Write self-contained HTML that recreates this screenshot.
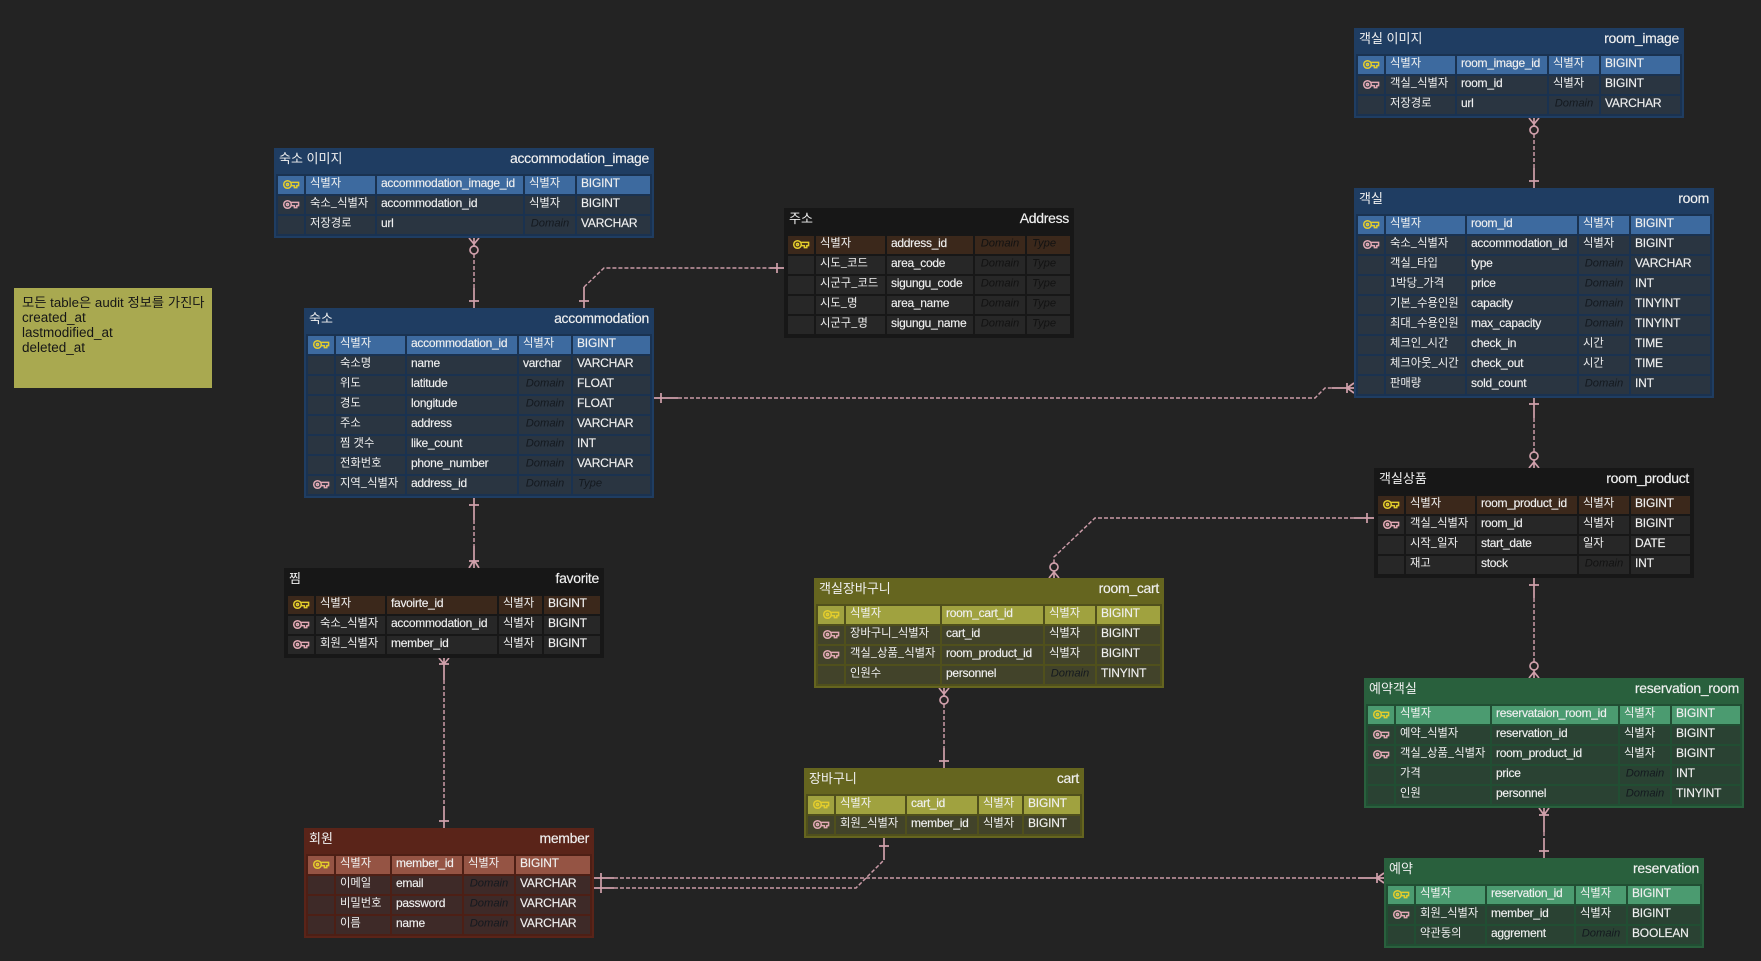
<!DOCTYPE html>
<html lang="ko"><head><meta charset="utf-8"><title>ERD</title>
<style>
html,body{margin:0;padding:0;background:#232323;width:1761px;height:961px;overflow:hidden}
svg{display:block;position:absolute;left:0;top:0}
text{font-family:"Liberation Sans","Noto Sans CJK KR",sans-serif;fill:#f0f0f0}
.k{font-family:"Noto Sans CJK KR","Liberation Sans",sans-serif;font-size:11.3px;transform:translateY(-1.3px)}
.l{font-size:12px;letter-spacing:-.28px;transform:translateY(-1px);stroke:#f0f0f0;stroke-width:.15px}
.t{font-size:12px;letter-spacing:-.2px;transform:translateY(-1px);stroke:#f0f0f0;stroke-width:.15px}
.d{font-size:11.2px;font-style:italic;text-anchor:middle;fill:#14191f;transform:translateY(-1.5px)}
.y{font-size:11.2px;font-style:italic;fill:#14191f;transform:translateY(-1.5px)}
.dk .d,.dk .y{fill:#121212}
.h{font-family:"Noto Sans CJK KR","Liberation Sans",sans-serif;font-size:13px}
.e{font-size:14px;letter-spacing:-.3px;text-anchor:end;stroke:#f0f0f0;stroke-width:.15px}
.n{font-size:13.5px;fill:#161616}
.nk{font-family:"Liberation Sans","Noto Sans CJK KR",sans-serif;font-size:13.3px;fill:#161616}
.c{fill:none;stroke:#d0a0ab;stroke-width:1.7}
.c .da{stroke-dasharray:4 2;stroke-width:1.5;stroke:#c99aa6}
</style></head><body>
<svg width="1761" height="961" viewBox="0 0 1761 961" xmlns="http://www.w3.org/2000/svg">
<defs>
<g id="ky" fill="none" stroke-width="1.5"><circle cx="4.5" cy="4.5" r="3.8"/><circle cx="4.5" cy="4.5" r="1.1"/><path d="M8.2 2.4H15.6V5.6H13.8V7.6H11.4V5.6H8.2"/></g>
<g id="r1"><rect x="278" width="26" height="18"/><rect x="306" width="69" height="18"/><rect x="377" width="146" height="18"/><rect x="525" width="50" height="18"/><rect x="577" width="73" height="18"/></g>
<g id="r2"><rect x="308" width="26" height="18"/><rect x="336" width="69" height="18"/><rect x="407" width="110" height="18"/><rect x="519" width="52" height="18"/><rect x="573" width="77" height="18"/></g>
<g id="r3"><rect x="288" width="26" height="18"/><rect x="316" width="69" height="18"/><rect x="387" width="110" height="18"/><rect x="499" width="43" height="18"/><rect x="544" width="56" height="18"/></g>
<g id="r4"><rect x="1358" width="26" height="18"/><rect x="1386" width="69" height="18"/><rect x="1457" width="90" height="18"/><rect x="1549" width="50" height="18"/><rect x="1601" width="79" height="18"/></g>
<g id="r5"><rect x="1358" width="26" height="18"/><rect x="1386" width="79" height="18"/><rect x="1467" width="110" height="18"/><rect x="1579" width="50" height="18"/><rect x="1631" width="79" height="18"/></g>
<g id="r6"><rect x="1378" width="26" height="18"/><rect x="1406" width="69" height="18"/><rect x="1477" width="100" height="18"/><rect x="1579" width="50" height="18"/><rect x="1631" width="59" height="18"/></g>
<g id="r7"><rect x="1368" width="26" height="18"/><rect x="1396" width="94" height="18"/><rect x="1492" width="126" height="18"/><rect x="1620" width="50" height="18"/><rect x="1672" width="68" height="18"/></g>
<g id="r8"><rect x="1388" width="26" height="18"/><rect x="1416" width="69" height="18"/><rect x="1487" width="87" height="18"/><rect x="1576" width="50" height="18"/><rect x="1628" width="72" height="18"/></g>
<g id="r9"><rect x="818" width="26" height="18"/><rect x="846" width="94" height="18"/><rect x="942" width="101" height="18"/><rect x="1045" width="50" height="18"/><rect x="1097" width="63" height="18"/></g>
<g id="r10"><rect x="808" width="26" height="18"/><rect x="836" width="69" height="18"/><rect x="907" width="70" height="18"/><rect x="979" width="43" height="18"/><rect x="1024" width="56" height="18"/></g>
<g id="r11"><rect x="788" width="26" height="18"/><rect x="816" width="69" height="18"/><rect x="887" width="86" height="18"/><rect x="975" width="50" height="18"/><rect x="1027" width="43" height="18"/></g>
<g id="r12"><rect x="308" width="26" height="18"/><rect x="336" width="54" height="18"/><rect x="392" width="70" height="18"/><rect x="464" width="50" height="18"/><rect x="516" width="74" height="18"/></g>
</defs>
<rect width="1761" height="961" fill="#232323"/>

<!-- connectors -->
<g class="c">
<path class="da" d="M474 254V288"/><path d="M474 288V308M469 301H479M474 238V246M469 238L474 244L479 238"/><circle cx="474" cy="250" r="4"/>
<path class="da" d="M584 287L604 268H770"/><path d="M584 308V287M579 301H589M770 268H784M777 263V273"/>
<path class="da" d="M678 398H1315L1325 388H1332"/><path d="M654 398H678M661 393V403M1332 388H1354M1347 383V393M1347 388L1354 383M1347 388L1354 393"/>
<path class="da" d="M474 520V546"/><path d="M474 498V520M469 505H479M474 546V568M469 561H479M474 560L469 568M474 560L479 568"/>
<path class="da" d="M444 680V806"/><path d="M444 658V680M439 664H449M444 664L439 658M444 664L449 658M444 806V828M439 821H449"/>
<path class="da" d="M1534 134V168"/><path d="M1534 118V126M1529 118L1534 124L1539 118M1534 168V188M1529 181H1539"/><circle cx="1534" cy="130" r="4"/>
<path class="da" d="M1534 418V452"/><path d="M1534 398V418M1529 404H1539M1534 460V468M1529 468L1534 462L1539 468"/><circle cx="1534" cy="456" r="4"/>
<path class="da" d="M1534 598V662"/><path d="M1534 578V598M1529 585H1539M1534 670V678M1529 678L1534 672L1539 678"/><circle cx="1534" cy="666" r="4"/>
<path class="da" d="M1354 518H1095L1054 557V563"/><path d="M1354 518H1374M1367 513V523M1054 571V578M1049 578L1054 572L1059 578"/><circle cx="1054" cy="567" r="4"/>
<path class="da" d="M944 704V748"/><path d="M944 688V696M939 688L944 694L949 688M944 748V768M939 761H949"/><circle cx="944" cy="700" r="4"/>
<path class="da" d="M1544 832V838"/><path d="M1544 808V832M1539 815H1549M1544 815L1539 808M1544 815L1549 808M1544 838V858M1539 851H1549"/>
<path class="da" d="M614 878H1358"/><path d="M594 878H614M1358 878H1384M1377 873V883M1377 878L1384 873M1377 878L1384 883"/>
<path class="da" d="M614 888H856L884 860"/><path d="M594 888H614M601 873V893M884 860V838M879 846H889"/>
</g>

<!-- note -->
<rect x="14" y="288" width="198" height="100" fill="#a9a950"/>
<text class="nk" x="22" y="307">모든 table은 audit 정보를 가진다</text>
<text class="n" x="22" y="322">created_at</text>
<text class="n" x="22" y="337">lastmodified_at</text>
<text class="n" x="22" y="352">deleted_at</text>

<!-- accommodation_image -->
<g>
<rect x="274" y="148" width="380" height="90" fill="#1f3d62"/><rect x="276" y="174" width="376" height="62" fill="#1a3250"/>
<use href="#r1" y="176" fill="#3d6a9f"/><use href="#r1" y="196" fill="#2a3541"/><use href="#r1" y="216" fill="#2a3541"/>
<use href="#ky" x="283" y="180" stroke="#e4cd2c"/><use href="#ky" x="283" y="200" stroke="#e2a9b4"/>
<text class="h" x="279" y="163">숙소 이미지</text><text class="e" x="649" y="163">accommodation_image</text>
<text class="k" x="310" y="188">식별자</text><text class="l" x="381" y="188">accommodation_image_id</text><text class="k" x="529" y="188">식별자</text><text class="t" x="581" y="188">BIGINT</text>
<text class="k" x="310" y="208">숙소_식별자</text><text class="l" x="381" y="208">accommodation_id</text><text class="k" x="529" y="208">식별자</text><text class="t" x="581" y="208">BIGINT</text>
<text class="k" x="310" y="228">저장경로</text><text class="l" x="381" y="228">url</text><text class="d" x="550" y="228">Domain</text><text class="t" x="581" y="228">VARCHAR</text>
</g>

<!-- accommodation -->
<g>
<rect x="304" y="308" width="350" height="190" fill="#1f3d62"/><rect x="306" y="334" width="346" height="162" fill="#1a3250"/>
<use href="#r2" y="336" fill="#3d6a9f"/><use href="#r2" y="356" fill="#2a3541"/><use href="#r2" y="376" fill="#2a3541"/><use href="#r2" y="396" fill="#2a3541"/><use href="#r2" y="416" fill="#2a3541"/><use href="#r2" y="436" fill="#2a3541"/><use href="#r2" y="456" fill="#2a3541"/><use href="#r2" y="476" fill="#2a3541"/>
<use href="#ky" x="313" y="340" stroke="#e4cd2c"/><use href="#ky" x="313" y="480" stroke="#e2a9b4"/>
<text class="h" x="309" y="323">숙소</text><text class="e" x="649" y="323">accommodation</text>
<text class="k" x="340" y="348">식별자</text><text class="l" x="411" y="348">accommodation_id</text><text class="k" x="523" y="348">식별자</text><text class="t" x="577" y="348">BIGINT</text>
<text class="k" x="340" y="368">숙소명</text><text class="l" x="411" y="368">name</text><text class="l" x="523" y="368">varchar</text><text class="t" x="577" y="368">VARCHAR</text>
<text class="k" x="340" y="388">위도</text><text class="l" x="411" y="388">latitude</text><text class="d" x="545" y="388">Domain</text><text class="t" x="577" y="388">FLOAT</text>
<text class="k" x="340" y="408">경도</text><text class="l" x="411" y="408">longitude</text><text class="d" x="545" y="408">Domain</text><text class="t" x="577" y="408">FLOAT</text>
<text class="k" x="340" y="428">주소</text><text class="l" x="411" y="428">address</text><text class="d" x="545" y="428">Domain</text><text class="t" x="577" y="428">VARCHAR</text>
<text class="k" x="340" y="448">찜 갯수</text><text class="l" x="411" y="448">like_count</text><text class="d" x="545" y="448">Domain</text><text class="t" x="577" y="448">INT</text>
<text class="k" x="340" y="468">전화번호</text><text class="l" x="411" y="468">phone_number</text><text class="d" x="545" y="468">Domain</text><text class="t" x="577" y="468">VARCHAR</text>
<text class="k" x="340" y="488">지역_식별자</text><text class="l" x="411" y="488">address_id</text><text class="d" x="545" y="488">Domain</text><text class="y" x="578" y="488">Type</text>
</g>

<!-- favorite -->
<g class="dk">
<rect x="284" y="568" width="320" height="90" fill="#171717"/>
<use href="#r3" y="596" fill="#3b281b"/><use href="#r3" y="616" fill="#272727"/><use href="#r3" y="636" fill="#272727"/>
<use href="#ky" x="293" y="600" stroke="#e4cd2c"/><use href="#ky" x="293" y="620" stroke="#e2a9b4"/><use href="#ky" x="293" y="640" stroke="#e2a9b4"/>
<text class="h" x="289" y="583">찜</text><text class="e" x="599" y="583">favorite</text>
<text class="k" x="320" y="608">식별자</text><text class="l" x="391" y="608">favoirte_id</text><text class="k" x="503" y="608">식별자</text><text class="t" x="548" y="608">BIGINT</text>
<text class="k" x="320" y="628">숙소_식별자</text><text class="l" x="391" y="628">accommodation_id</text><text class="k" x="503" y="628">식별자</text><text class="t" x="548" y="628">BIGINT</text>
<text class="k" x="320" y="648">회원_식별자</text><text class="l" x="391" y="648">member_id</text><text class="k" x="503" y="648">식별자</text><text class="t" x="548" y="648">BIGINT</text>
</g>

<!-- room_image -->
<g>
<rect x="1354" y="28" width="330" height="90" fill="#1f3d62"/><rect x="1356" y="54" width="326" height="62" fill="#1a3250"/>
<use href="#r4" y="56" fill="#3d6a9f"/><use href="#r4" y="76" fill="#2a3541"/><use href="#r4" y="96" fill="#2a3541"/>
<use href="#ky" x="1363" y="60" stroke="#e4cd2c"/><use href="#ky" x="1363" y="80" stroke="#e2a9b4"/>
<text class="h" x="1359" y="43">객실 이미지</text><text class="e" x="1679" y="43">room_image</text>
<text class="k" x="1390" y="68">식별자</text><text class="l" x="1461" y="68">room_image_id</text><text class="k" x="1553" y="68">식별자</text><text class="t" x="1605" y="68">BIGINT</text>
<text class="k" x="1390" y="88">객실_식별자</text><text class="l" x="1461" y="88">room_id</text><text class="k" x="1553" y="88">식별자</text><text class="t" x="1605" y="88">BIGINT</text>
<text class="k" x="1390" y="108">저장경로</text><text class="l" x="1461" y="108">url</text><text class="d" x="1574" y="108">Domain</text><text class="t" x="1605" y="108">VARCHAR</text>
</g>

<!-- room -->
<g>
<rect x="1354" y="188" width="360" height="210" fill="#1f3d62"/><rect x="1356" y="214" width="356" height="182" fill="#1a3250"/>
<use href="#r5" y="216" fill="#3d6a9f"/><use href="#r5" y="236" fill="#2a3541"/><use href="#r5" y="256" fill="#2a3541"/><use href="#r5" y="276" fill="#2a3541"/><use href="#r5" y="296" fill="#2a3541"/><use href="#r5" y="316" fill="#2a3541"/><use href="#r5" y="336" fill="#2a3541"/><use href="#r5" y="356" fill="#2a3541"/><use href="#r5" y="376" fill="#2a3541"/>
<use href="#ky" x="1363" y="220" stroke="#e4cd2c"/><use href="#ky" x="1363" y="240" stroke="#e2a9b4"/>
<text class="h" x="1359" y="203">객실</text><text class="e" x="1709" y="203">room</text>
<text class="k" x="1390" y="228">식별자</text><text class="l" x="1471" y="228">room_id</text><text class="k" x="1583" y="228">식별자</text><text class="t" x="1635" y="228">BIGINT</text>
<text class="k" x="1390" y="248">숙소_식별자</text><text class="l" x="1471" y="248">accommodation_id</text><text class="k" x="1583" y="248">식별자</text><text class="t" x="1635" y="248">BIGINT</text>
<text class="k" x="1390" y="268">객실_타입</text><text class="l" x="1471" y="268">type</text><text class="d" x="1604" y="268">Domain</text><text class="t" x="1635" y="268">VARCHAR</text>
<text class="k" x="1390" y="288">1박당_가격</text><text class="l" x="1471" y="288">price</text><text class="d" x="1604" y="288">Domain</text><text class="t" x="1635" y="288">INT</text>
<text class="k" x="1390" y="308">기본_수용인원</text><text class="l" x="1471" y="308">capacity</text><text class="d" x="1604" y="308">Domain</text><text class="t" x="1635" y="308">TINYINT</text>
<text class="k" x="1390" y="328">최대_수용인원</text><text class="l" x="1471" y="328">max_capacity</text><text class="d" x="1604" y="328">Domain</text><text class="t" x="1635" y="328">TINYINT</text>
<text class="k" x="1390" y="348">체크인_시간</text><text class="l" x="1471" y="348">check_in</text><text class="k" x="1583" y="348">시간</text><text class="t" x="1635" y="348">TIME</text>
<text class="k" x="1390" y="368">체크아웃_시간</text><text class="l" x="1471" y="368">check_out</text><text class="k" x="1583" y="368">시간</text><text class="t" x="1635" y="368">TIME</text>
<text class="k" x="1390" y="388">판매량</text><text class="l" x="1471" y="388">sold_count</text><text class="d" x="1604" y="388">Domain</text><text class="t" x="1635" y="388">INT</text>
</g>

<!-- room_product -->
<g class="dk">
<rect x="1374" y="468" width="320" height="110" fill="#171717"/>
<use href="#r6" y="496" fill="#3b281b"/><use href="#r6" y="516" fill="#272727"/><use href="#r6" y="536" fill="#272727"/><use href="#r6" y="556" fill="#272727"/>
<use href="#ky" x="1383" y="500" stroke="#e4cd2c"/><use href="#ky" x="1383" y="520" stroke="#e2a9b4"/>
<text class="h" x="1379" y="483">객실상품</text><text class="e" x="1689" y="483">room_product</text>
<text class="k" x="1410" y="508">식별자</text><text class="l" x="1481" y="508">room_product_id</text><text class="k" x="1583" y="508">식별자</text><text class="t" x="1635" y="508">BIGINT</text>
<text class="k" x="1410" y="528">객실_식별자</text><text class="l" x="1481" y="528">room_id</text><text class="k" x="1583" y="528">식별자</text><text class="t" x="1635" y="528">BIGINT</text>
<text class="k" x="1410" y="548">시작_일자</text><text class="l" x="1481" y="548">start_date</text><text class="k" x="1583" y="548">일자</text><text class="t" x="1635" y="548">DATE</text>
<text class="k" x="1410" y="568">재고</text><text class="l" x="1481" y="568">stock</text><text class="d" x="1604" y="568">Domain</text><text class="t" x="1635" y="568">INT</text>
</g>

<!-- reservation_room -->
<g>
<rect x="1364" y="678" width="380" height="130" fill="#29603d"/><rect x="1366" y="704" width="376" height="102" fill="#214e33"/>
<use href="#r7" y="706" fill="#4b9b70"/><use href="#r7" y="726" fill="#2a4233"/><use href="#r7" y="746" fill="#2a4233"/><use href="#r7" y="766" fill="#2a4233"/><use href="#r7" y="786" fill="#2a4233"/>
<use href="#ky" x="1373" y="710" stroke="#e4cd2c"/><use href="#ky" x="1373" y="730" stroke="#e2a9b4"/><use href="#ky" x="1373" y="750" stroke="#e2a9b4"/>
<text class="h" x="1369" y="693">예약객실</text><text class="e" x="1739" y="693">reservation_room</text>
<text class="k" x="1400" y="718">식별자</text><text class="l" x="1496" y="718">reservataion_room_id</text><text class="k" x="1624" y="718">식별자</text><text class="t" x="1676" y="718">BIGINT</text>
<text class="k" x="1400" y="738">예약_식별자</text><text class="l" x="1496" y="738">reservation_id</text><text class="k" x="1624" y="738">식별자</text><text class="t" x="1676" y="738">BIGINT</text>
<text class="k" x="1400" y="758">객실_상품_식별자</text><text class="l" x="1496" y="758">room_product_id</text><text class="k" x="1624" y="758">식별자</text><text class="t" x="1676" y="758">BIGINT</text>
<text class="k" x="1400" y="778">가격</text><text class="l" x="1496" y="778">price</text><text class="d" x="1645" y="778">Domain</text><text class="t" x="1676" y="778">INT</text>
<text class="k" x="1400" y="798">인원</text><text class="l" x="1496" y="798">personnel</text><text class="d" x="1645" y="798">Domain</text><text class="t" x="1676" y="798">TINYINT</text>
</g>

<!-- reservation -->
<g>
<rect x="1384" y="858" width="320" height="90" fill="#29603d"/><rect x="1386" y="884" width="316" height="62" fill="#214e33"/>
<use href="#r8" y="886" fill="#4b9b70"/><use href="#r8" y="906" fill="#2a4233"/><use href="#r8" y="926" fill="#2a4233"/>
<use href="#ky" x="1393" y="890" stroke="#e4cd2c"/><use href="#ky" x="1393" y="910" stroke="#e2a9b4"/>
<text class="h" x="1389" y="873">예약</text><text class="e" x="1699" y="873">reservation</text>
<text class="k" x="1420" y="898">식별자</text><text class="l" x="1491" y="898">reservation_id</text><text class="k" x="1580" y="898">식별자</text><text class="t" x="1632" y="898">BIGINT</text>
<text class="k" x="1420" y="918">회원_식별자</text><text class="l" x="1491" y="918">member_id</text><text class="k" x="1580" y="918">식별자</text><text class="t" x="1632" y="918">BIGINT</text>
<text class="k" x="1420" y="938">약관동의</text><text class="l" x="1491" y="938">aggrement</text><text class="d" x="1601" y="938">Domain</text><text class="t" x="1632" y="938">BOOLEAN</text>
</g>

<!-- room_cart -->
<g>
<rect x="814" y="578" width="350" height="110" fill="#65651f"/><rect x="816" y="604" width="346" height="82" fill="#50501c"/>
<use href="#r9" y="606" fill="#a0a23f"/><use href="#r9" y="626" fill="#42432a"/><use href="#r9" y="646" fill="#42432a"/><use href="#r9" y="666" fill="#42432a"/>
<use href="#ky" x="823" y="610" stroke="#e4cd2c"/><use href="#ky" x="823" y="630" stroke="#e2a9b4"/><use href="#ky" x="823" y="650" stroke="#e2a9b4"/>
<text class="h" x="819" y="593">객실장바구니</text><text class="e" x="1159" y="593">room_cart</text>
<text class="k" x="850" y="618">식별자</text><text class="l" x="946" y="618">room_cart_id</text><text class="k" x="1049" y="618">식별자</text><text class="t" x="1101" y="618">BIGINT</text>
<text class="k" x="850" y="638">장바구니_식별자</text><text class="l" x="946" y="638">cart_id</text><text class="k" x="1049" y="638">식별자</text><text class="t" x="1101" y="638">BIGINT</text>
<text class="k" x="850" y="658">객실_상품_식별자</text><text class="l" x="946" y="658">room_product_id</text><text class="k" x="1049" y="658">식별자</text><text class="t" x="1101" y="658">BIGINT</text>
<text class="k" x="850" y="678">인원수</text><text class="l" x="946" y="678">personnel</text><text class="d" x="1070" y="678">Domain</text><text class="t" x="1101" y="678">TINYINT</text>
</g>

<!-- cart -->
<g>
<rect x="804" y="768" width="280" height="70" fill="#65651f"/><rect x="806" y="794" width="276" height="42" fill="#50501c"/>
<use href="#r10" y="796" fill="#a0a23f"/><use href="#r10" y="816" fill="#42432a"/>
<use href="#ky" x="813" y="800" stroke="#e4cd2c"/><use href="#ky" x="813" y="820" stroke="#e2a9b4"/>
<text class="h" x="809" y="783">장바구니</text><text class="e" x="1079" y="783">cart</text>
<text class="k" x="840" y="808">식별자</text><text class="l" x="911" y="808">cart_id</text><text class="k" x="983" y="808">식별자</text><text class="t" x="1028" y="808">BIGINT</text>
<text class="k" x="840" y="828">회원_식별자</text><text class="l" x="911" y="828">member_id</text><text class="k" x="983" y="828">식별자</text><text class="t" x="1028" y="828">BIGINT</text>
</g>

<!-- Address -->
<g class="dk">
<rect x="784" y="208" width="290" height="130" fill="#171717"/>
<use href="#r11" y="236" fill="#3b281b"/><use href="#r11" y="256" fill="#272727"/><use href="#r11" y="276" fill="#272727"/><use href="#r11" y="296" fill="#272727"/><use href="#r11" y="316" fill="#272727"/>
<use href="#ky" x="793" y="240" stroke="#e4cd2c"/>
<text class="h" x="789" y="223">주소</text><text class="e" x="1069" y="223">Address</text>
<text class="k" x="820" y="248">식별자</text><text class="l" x="891" y="248">address_id</text><text class="d" x="1000" y="248">Domain</text><text class="y" x="1032" y="248">Type</text>
<text class="k" x="820" y="268">시도_코드</text><text class="l" x="891" y="268">area_code</text><text class="d" x="1000" y="268">Domain</text><text class="y" x="1032" y="268">Type</text>
<text class="k" x="820" y="288">시군구_코드</text><text class="l" x="891" y="288">sigungu_code</text><text class="d" x="1000" y="288">Domain</text><text class="y" x="1032" y="288">Type</text>
<text class="k" x="820" y="308">시도_명</text><text class="l" x="891" y="308">area_name</text><text class="d" x="1000" y="308">Domain</text><text class="y" x="1032" y="308">Type</text>
<text class="k" x="820" y="328">시군구_명</text><text class="l" x="891" y="328">sigungu_name</text><text class="d" x="1000" y="328">Domain</text><text class="y" x="1032" y="328">Type</text>
</g>

<!-- member -->
<g>
<rect x="304" y="828" width="290" height="110" fill="#5a2419"/><rect x="306" y="854" width="286" height="82" fill="#4d1f15"/>
<use href="#r12" y="856" fill="#955444"/><use href="#r12" y="876" fill="#3e2a28"/><use href="#r12" y="896" fill="#3e2a28"/><use href="#r12" y="916" fill="#3e2a28"/>
<use href="#ky" x="313" y="860" stroke="#e4cd2c"/>
<text class="h" x="309" y="843">회원</text><text class="e" x="589" y="843">member</text>
<text class="k" x="340" y="868">식별자</text><text class="l" x="396" y="868">member_id</text><text class="k" x="468" y="868">식별자</text><text class="t" x="520" y="868">BIGINT</text>
<text class="k" x="340" y="888">이메일</text><text class="l" x="396" y="888">email</text><text class="d" x="489" y="888">Domain</text><text class="t" x="520" y="888">VARCHAR</text>
<text class="k" x="340" y="908">비밀번호</text><text class="l" x="396" y="908">password</text><text class="d" x="489" y="908">Domain</text><text class="t" x="520" y="908">VARCHAR</text>
<text class="k" x="340" y="928">이름</text><text class="l" x="396" y="928">name</text><text class="d" x="489" y="928">Domain</text><text class="t" x="520" y="928">VARCHAR</text>
</g>
</svg>
</body></html>
